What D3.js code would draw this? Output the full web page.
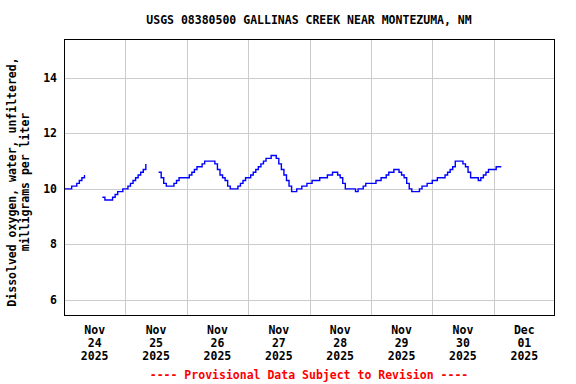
<!DOCTYPE html>
<html>
<head>
<meta charset="utf-8">
<script src="https://cdn.jsdelivr.net/npm/d3@7"></script>
<style>
  body { margin: 0; background: #fff; }
  text { font-family: 'DejaVu Sans Mono', monospace; font-weight: bold; font-size: 11.5px; }
</style>
</head>
<body>
<div id="chart"></div>
<script>
'use strict'

// hourly readings starting Nov 24 2025 00:00, null = no data
var START = new Date(2025, 10, 24, 0, 0);
var oxygen = [
  10.0, 10.0, 10.0, 10.1, 10.1, 10.2, 10.3, 10.4, 10.5, null,
  null, null, null, null, null, 9.7, 9.6, 9.6, 9.6, 9.7,
  9.8, 9.9, 9.9, 10.0, 10.0, 10.1, 10.2, 10.3, 10.4, 10.5,
  10.6, 10.7, 10.9, null, null, null, null, 10.6, 10.4, 10.2,
  10.1, 10.1, 10.1, 10.2, 10.3, 10.4, 10.4, 10.4, 10.4, 10.5,
  10.6, 10.7, 10.8, 10.8, 10.9, 11.0, 11.0, 11.0, 11.0, 10.9,
  10.7, 10.5, 10.4, 10.3, 10.1, 10.0, 10.0, 10.0, 10.1, 10.2,
  10.3, 10.4, 10.4, 10.5, 10.6, 10.7, 10.8, 10.9, 11.0, 11.1,
  11.1, 11.2, 11.2, 11.1, 10.9, 10.7, 10.5, 10.3, 10.1, 9.9,
  9.9, 10.0, 10.0, 10.1, 10.1, 10.2, 10.2, 10.3, 10.3, 10.3,
  10.4, 10.4, 10.4, 10.5, 10.5, 10.6, 10.6, 10.5, 10.4, 10.2,
  10.0, 10.0, 10.0, 10.0, 9.9, 10.0, 10.0, 10.1, 10.2, 10.2,
  10.2, 10.2, 10.3, 10.3, 10.4, 10.4, 10.5, 10.6, 10.6, 10.7,
  10.7, 10.6, 10.5, 10.4, 10.2, 10.0, 9.9, 9.9, 9.9, 10.0,
  10.1, 10.1, 10.2, 10.2, 10.3, 10.3, 10.4, 10.4, 10.4, 10.5,
  10.6, 10.7, 10.8, 11.0, 11.0, 11.0, 10.9, 10.8, 10.6, 10.4,
  10.4, 10.4, 10.3, 10.4, 10.5, 10.6, 10.7, 10.7, 10.7, 10.8,
  10.8, 10.8
];

var yTicks = [6, 8, 10, 12, 14];
var dayLabels = [
  ['Nov', '24', '2025'], ['Nov', '25', '2025'], ['Nov', '26', '2025'], ['Nov', '27', '2025'],
  ['Nov', '28', '2025'], ['Nov', '29', '2025'], ['Nov', '30', '2025'], ['Dec', '01', '2025']
];

var width = 576, height = 384;
var padding = { top: 39, right: 21, bottom: 68, left: 64 };

var svg = d3.select('#chart').append('svg')
  .attr('width', width)
  .attr('height', height);

var x = d3.scaleTime()
  .domain([START, d3.timeDay.offset(START, 8)])
  .range([padding.left, width - padding.right]);

var y = d3.scaleLinear()
  .domain([5.42, 15.4])
  .range([height - padding.bottom, padding.top]);

var days = d3.timeDay.range(START, d3.timeDay.offset(START, 8));

// gridlines
var grid = svg.append('g').attr('style', 'stroke: #cccccc; stroke-width: 1;');
grid.selectAll('line.h')
  .data(yTicks)
  .enter().append('line')
  .attr('x1', padding.left).attr('x2', width - padding.right)
  .attr('y1', function(d) { return Math.round(y(d)) + 0.5; })
  .attr('y2', function(d) { return Math.round(y(d)) + 0.5; });
grid.selectAll('line.v')
  .data(days.slice(1))
  .enter().append('line')
  .attr('y1', padding.top).attr('y2', height - padding.bottom)
  .attr('x1', function(d) { return Math.round(x(d)) + 0.5; })
  .attr('x2', function(d) { return Math.round(x(d)) + 0.5; });

// the series
var line = d3.line()
  .defined(function(d) { return d != null; })
  .curve(d3.curveStepAfter)
  .x(function(d, i) { return x(d3.timeHour.offset(START, i)); })
  .y(function(d) { return y(d); });

svg.append('path')
  .datum(oxygen)
  .attr('d', line)
  .attr('style', 'stroke: #0000ff; stroke-width: 1.4; fill: none;');

// frame
svg.append('rect')
  .attr('x', padding.left + 0.5)
  .attr('y', padding.top + 0.5)
  .attr('width', width - padding.left - padding.right - 1)
  .attr('height', height - padding.top - padding.bottom - 1)
  .attr('style', 'stroke: #000; stroke-width: 1; fill: none;');

// y tick labels
svg.append('g').selectAll('text')
  .data(yTicks)
  .enter().append('text')
  .attr('x', padding.left - 7)
  .attr('y', function(d) { return y(d) + 4; })
  .attr('text-anchor', 'end')
  .text(function(d) { return d; });

// x tick labels at noon of each day
var xl = svg.append('g').selectAll('text')
  .data(days)
  .enter().append('text')
  .attr('text-anchor', 'middle')
  .attr('transform', function(d) {
    return 'translate(' + x(d3.timeHour.offset(d, 12)) + ', 334)';
  });
xl.each(function(d, i) {
  var t = d3.select(this);
  dayLabels[i].forEach(function(s, j) {
    t.append('tspan').attr('x', 0).attr('y', j * 13).text(s);
  });
});

// title
svg.append('text')
  .attr('x', 309)
  .attr('y', 24)
  .attr('text-anchor', 'middle')
  .text('USGS 08380500 GALLINAS CREEK NEAR MONTEZUMA, NM');

// y label
var yl = svg.append('text')
  .attr('text-anchor', 'middle')
  .attr('transform', 'translate(16, 182) rotate(-90)');
yl.append('tspan').attr('x', 0).attr('y', 0).text('Dissolved oxygen, water, unfiltered,');
yl.append('tspan').attr('x', 0).attr('y', 13).text('milligrams per liter');

// provisional note
svg.append('text')
  .attr('x', 309)
  .attr('y', 379)
  .attr('text-anchor', 'middle')
  .attr('fill', '#ff0000')
  .text('---- Provisional Data Subject to Revision ----');
</script>
</body>
</html>
